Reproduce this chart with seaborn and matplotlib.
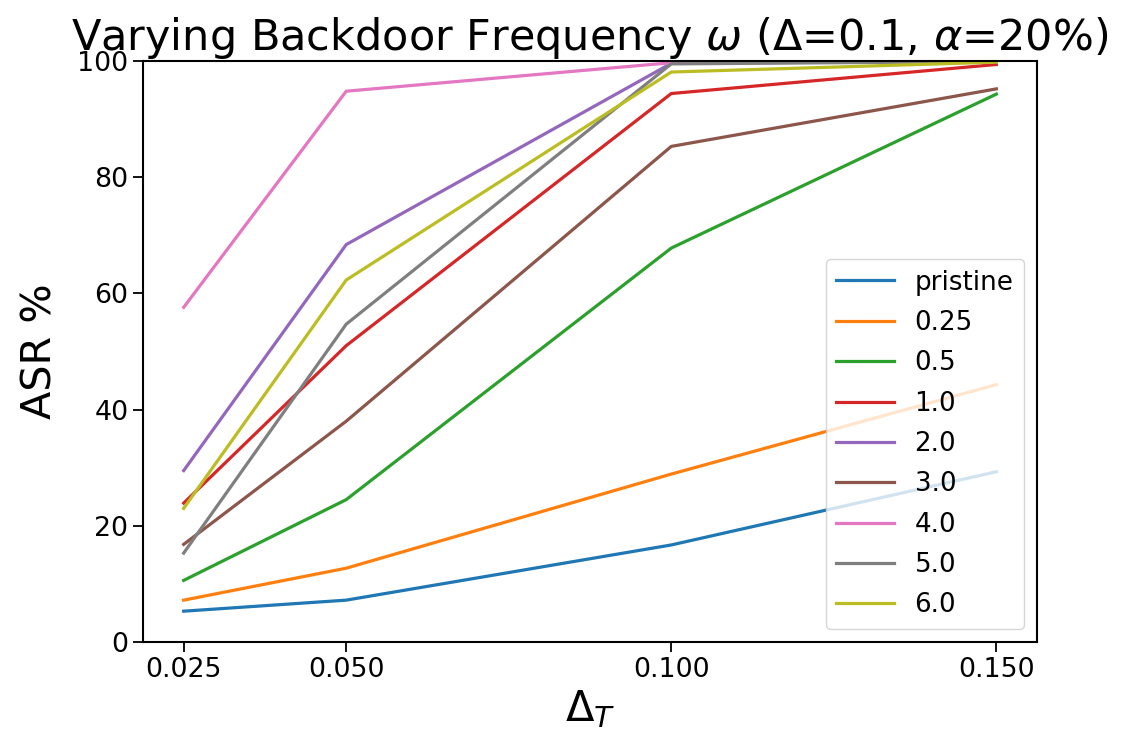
import numpy as np
import pandas as pd
import matplotlib
matplotlib.use("Agg")
import matplotlib.pyplot as plt
from matplotlib.ticker import FormatStrFormatter
import seaborn as sns

# Trigger magnitudes on the x axis
delta_t = [0.025, 0.050, 0.100, 0.150]

# ASR (%) for each backdoor frequency setting
series_names = ["pristine", "0.25", "0.5", "1.0", "2.0", "3.0", "4.0", "5.0", "6.0"]
asr_pristine = [5.3, 7.2, 16.7, 29.3]
asr_025 = [7.2, 12.7, 28.9, 44.3]
asr_05 = [10.6, 24.5, 67.8, 94.3]
asr_10 = [23.9, 51.0, 94.4, 99.4]
asr_20 = [29.5, 68.4, 99.6, 100.0]
asr_30 = [16.8, 38.0, 85.3, 95.2]
asr_40 = [57.6, 94.8, 99.7, 100.0]
asr_50 = [15.3, 54.7, 99.5, 99.9]
asr_60 = [23.0, 62.3, 98.1, 99.8]

y_ticks = [0, 20, 40, 60, 80, 100]

all_series = [asr_pristine, asr_025, asr_05, asr_10, asr_20,
              asr_30, asr_40, asr_50, asr_60]
df = pd.DataFrame({
    "delta": np.tile(delta_t, len(series_names)),
    "asr": np.concatenate(all_series),
    "omega": np.repeat(series_names, len(delta_t)),
})

fig = plt.figure(figsize=(11.29, 7.42), dpi=100)
ax = fig.add_axes([0.1267, 0.1348, 0.7918, 0.783])

sns.lineplot(data=df, x="delta", y="asr", hue="omega", hue_order=series_names,
             palette="tab10", linewidth=2.3, ax=ax)

ax.set_ylim(0, 100)
ax.set_yticks(y_ticks)
ax.set_xticks(delta_t)
ax.xaxis.set_major_formatter(FormatStrFormatter("%.3f"))
ax.tick_params(labelsize=19.3, length=7, width=1.3)
for sp in ax.spines.values():
    sp.set_linewidth(1.5)

ax.set_xlabel(r"$\Delta_T$", fontsize=30)
ax.set_ylabel("ASR %", fontsize=29.8, labelpad=12)
ax.set_title(r"Varying Backdoor Frequency $\omega$ ($\Delta$=0.1, $\alpha$=20%)",
             fontsize=31, pad=7)

sns.move_legend(ax, "lower right", title=None, fontsize=18.8,
                handlelength=2.2, labelspacing=0.55)

fig.savefig("out.png", dpi=100)
